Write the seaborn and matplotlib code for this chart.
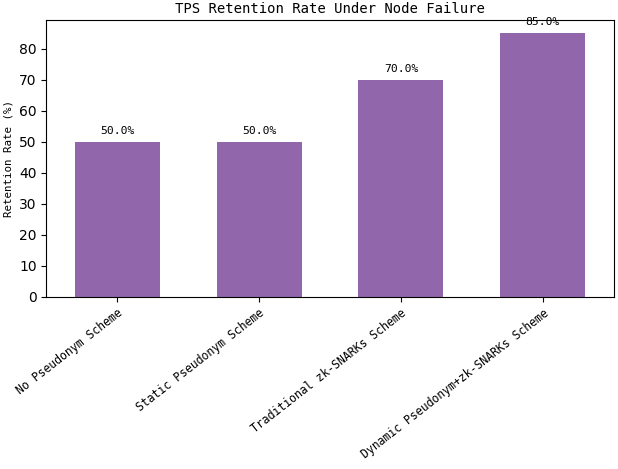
import numpy as np
import matplotlib
matplotlib.use("Agg")
import matplotlib.pyplot as plt
import pandas as pd
import seaborn as sns

# data
schemes = [
    "No Pseudonym Scheme",
    "Static Pseudonym Scheme",
    "Traditional zk-SNARKs Scheme",
    "Dynamic Pseudonym+zk-SNARKs Scheme",
]
retention = [50.0, 50.0, 70.0, 85.0]

df = pd.DataFrame({"scheme": schemes, "retention": retention})

mono = "DejaVu Sans Mono"

fig, ax = plt.subplots(figsize=(6.18, 4.69), dpi=100)
fig.subplots_adjust(left=0.075, right=0.993, top=0.957, bottom=0.367)

sns.barplot(data=df, x="scheme", y="retention", color="#9166aa", saturation=1,
            width=0.6, ax=ax)

for i, v in enumerate(retention):
    ax.text(i, v + 2.0, f"{v:.1f}%", ha="center", va="bottom",
            fontsize=8.2, family=mono)

ax.set_xlim(-0.5, 3.5)
ax.set_ylim(0, 89.25)
ax.set_title("TPS Retention Rate Under Node Failure", fontsize=10,
             family=mono, pad=5)
ax.set_xlabel("")
ax.set_ylabel("Retention Rate (%)", fontsize=7.8, family=mono)
ax.set_xticks(range(len(schemes)))
ax.set_xticklabels(schemes, rotation=38, ha="right", rotation_mode="anchor",
                   fontsize=8.3, family=mono)
ax.tick_params(axis="y", labelsize=10)

plt.savefig("out.png", dpi=100)
